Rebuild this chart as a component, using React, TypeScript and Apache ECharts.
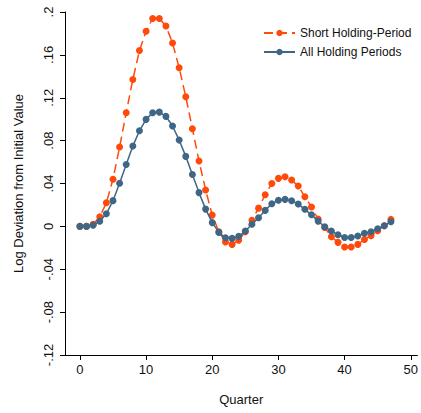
import React, { useEffect, useRef } from "react";
import * as echarts from "echarts";

// Quarter index 0..47
const quarters: number[] = Array.from({ length: 48 }, (_, i) => i);

// Short holding-period repeat sales
const shortHolding: number[] = [
  0, 0, 0.002, 0.009, 0.022, 0.044, 0.074, 0.106, 0.137, 0.164,
  0.182, 0.194, 0.194, 0.187, 0.171, 0.148, 0.121, 0.091, 0.061, 0.034,
  0.0105, -0.005, -0.0146, -0.0168, -0.0128, -0.005, 0.0056, 0.017, 0.0295, 0.04,
  0.0448, 0.0463, 0.0432, 0.0376, 0.0276, 0.018, 0.0068, -0.001, -0.0097, -0.0149,
  -0.0193, -0.0193, -0.0168, -0.0122, -0.0087, -0.004, 0.0006, 0.0065,
];

// All holding periods
const allHolding: number[] = [
  0, 0, 0.001, 0.0047, 0.0118, 0.024, 0.0403, 0.0577, 0.0749, 0.0892,
  0.0998, 0.106, 0.1066, 0.1026, 0.0936, 0.0805, 0.0653, 0.0484, 0.0315, 0.0161,
  0.0035, -0.0056, -0.0106, -0.0112, -0.0093, -0.0044, 0.0019, 0.008, 0.0149, 0.0211,
  0.0243, 0.0252, 0.0239, 0.0208, 0.0159, 0.0108, 0.0049, -0.0004, -0.0044, -0.0078,
  -0.0103, -0.0103, -0.009, -0.0065, -0.005, -0.0022, 0.0006, 0.0043,
];

const xTicks: number[] = [0, 10, 20, 30, 40, 50];
const yTicks: number[] = [-0.12, -0.08, -0.04, 0, 0.04, 0.08, 0.12, 0.16, 0.2];

const ORANGE = "#ff4a0a";
const BLUE = "#3f6684";
const FONT = "Liberation Sans, Arial, Helvetica, sans-serif";

const fmtY = (v: number) => {
  const r = Math.round(v * 100) / 100;
  if (r === 0) return "0";
  const s = String(r);
  return s.replace(/^(-?)0\./, "$1.");
};

export default function App() {
  const ref = useRef<HTMLDivElement>(null);

  useEffect(() => {
    document.body.style.margin = "0";
    if (!ref.current) return;
    const chart = echarts.init(ref.current, undefined, { renderer: "svg" });

    chart.setOption({
      animation: false,
      backgroundColor: "#ffffff",
      textStyle: { fontFamily: FONT },
      grid: { left: 65, right: 1, top: 12, bottom: 58, containLabel: false },
      legend: {
        orient: "vertical",
        left: 258,
        top: 22,
        itemWidth: 31,
        itemHeight: 8,
        itemGap: 7,
        textStyle: { fontFamily: FONT, fontSize: 12, color: "#111" },
        data: ["Short Holding-Period", "All Holding Periods"],
      },
      xAxis: {
        type: "value",
        min: -2.25,
        max: 51,
        name: "Quarter",
        nameLocation: "middle",
        nameGap: 38,
        nameTextStyle: { fontFamily: FONT, fontSize: 13, color: "#111" },
        splitLine: { show: false },
        axisLine: { show: true, onZero: false, lineStyle: { color: "#000", width: 1 } },
        axisTick: { show: true, customValues: xTicks, length: 5, lineStyle: { color: "#000" } },
        axisLabel: {
          customValues: xTicks,
          fontFamily: FONT,
          fontSize: 13,
          color: "#111",
          margin: 8,
        },
      },
      yAxis: {
        type: "value",
        min: -0.12,
        max: 0.2,
        name: "Log Deviation from Initial Value",
        nameLocation: "middle",
        nameGap: 40,
        nameRotate: 90,
        nameTextStyle: { fontFamily: FONT, fontSize: 13, color: "#111" },
        splitLine: { show: false },
        axisLine: { show: true, onZero: false, lineStyle: { color: "#000", width: 1 } },
        axisTick: { show: true, customValues: yTicks, length: 5, lineStyle: { color: "#000" } },
        axisLabel: {
          customValues: yTicks,
          rotate: 90,
          fontFamily: FONT,
          fontSize: 13,
          color: "#111",
          margin: 10,
          formatter: (v: number) => fmtY(v),
        },
      },
      series: [
        {
          name: "Short Holding-Period",
          type: "line",
          data: quarters.map((q, i) => [q, shortHolding[i]]),
          symbol: "circle",
          symbolSize: 7,
          z: 2,
          itemStyle: { color: ORANGE },
          lineStyle: { color: ORANGE, width: 1.5, type: [9, 5] },
        },
        {
          name: "All Holding Periods",
          type: "line",
          data: quarters.map((q, i) => [q, allHolding[i]]),
          symbol: "circle",
          symbolSize: 7,
          z: 3,
          itemStyle: { color: BLUE },
          lineStyle: { color: BLUE, width: 1.5 },
        },
      ],
    });

    return () => chart.dispose();
  }, []);

  return <div ref={ref} style={{ width: 421, height: 413 }} />;
}
